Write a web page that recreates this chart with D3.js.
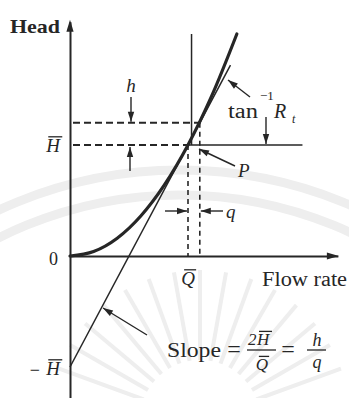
<!DOCTYPE html>
<html><head><meta charset="utf-8">
<script src="https://cdn.jsdelivr.net/npm/d3@7"></script>
<style>
body{margin:0;background:#fff}
svg{display:block}
text{font-family:"Liberation Serif","Times New Roman",serif;fill:#262626}
</style>
</head><body>
<svg id="c" width="349" height="398"></svg>
<script>
// Pump characteristic: head H against flow rate Q, in units of the operating point (Q̄, H̄)
const curveQ = [0, 0.2, 0.4, 0.6, 0.8, 1.0, 1.2, 1.414];
const curveH = [0, 0.04, 0.16, 0.36, 0.64, 1.0, 1.44, 2.0];
// tangent at P, crossing the head axis at −H̄
const tangentQ = [0, 1.36];
const tangentH = [-1, 1.72];
const opQ = 1, opH = 1;          // Q̄, H̄
const smallQ = 0.1, smallH = 0.2; // q, h
const axisQ = [0, 2.27];
const axisH = [-1.28, 2.11];
const refLineQ = 1.03, refLineTopH = 2.0;
const headLineEndQ = 1.97;

const ink = "#262626";
const svg = d3.select("#c");

const x = d3.scaleLinear().domain([0, 1]).range([70, 188]);
const y = d3.scaleLinear().domain([0, 1]).range([256, 145]);

// faint background emblem
const bg = svg.append("g").attr("fill", "none").attr("stroke", "#eeeeee");
[430, 405].forEach(r => {
  bg.append("path").attr("stroke-width", 9)
    .attr("d", d3.arc()({innerRadius: r, outerRadius: r, startAngle: -0.75, endAngle: 0.75}))
    .attr("transform", "translate(180,600)");
});
d3.range(-70, 71, 10).forEach(a => {
  const t = (a - 90) * Math.PI / 180;
  bg.append("line").attr("stroke-width", 4)
    .attr("x1", 200 + 60 * Math.cos(t)).attr("y1", 420 + 60 * Math.sin(t))
    .attr("x2", 200 + 150 * Math.cos(t)).attr("y2", 420 + 150 * Math.sin(t));
});

// axes without ticks
const xAxisScale = x.copy().domain(axisQ).range([x(axisQ[0]), x(axisQ[1])]);
const yAxisScale = y.copy().domain(axisH).range([y(axisH[0]), y(axisH[1])]);
svg.append("g").attr("transform", `translate(0,${y(0)})`)
  .call(d3.axisBottom(xAxisScale).tickValues([]).tickSizeOuter(0))
  .select(".domain").attr("stroke", ink).attr("stroke-width", 2);
svg.append("g").attr("transform", `translate(${x(0)},0)`)
  .call(d3.axisLeft(yAxisScale).tickValues([]).tickSizeOuter(0))
  .select(".domain").attr("stroke", ink).attr("stroke-width", 2);

function head(px, py, ang, len = 10, w = 3.2) {
  const c = Math.cos(ang), s = Math.sin(ang);
  const bx = px - len * c, by = py - len * s;
  svg.append("path").attr("fill", ink)
    .attr("d", `M${px},${py}L${bx - w * s},${by + w * c}L${bx + w * s},${by - w * c}Z`);
}
function arrow(x1, y1, x2, y2, sw = 1.4) {
  svg.append("line").attr("x1", x1).attr("y1", y1).attr("x2", x2).attr("y2", y2)
    .attr("stroke", ink).attr("stroke-width", sw);
  head(x2, y2, Math.atan2(y2 - y1, x2 - x1));
}
head(xAxisScale.range()[1] + 1, y(0), 0, 12, 3.6);
head(x(0), yAxisScale.range()[1] - 2, -Math.PI / 2, 12, 3.6);

// dashed guides
const dash = (x1, y1, x2, y2, d, w) => svg.append("line")
  .attr("x1", x1).attr("y1", y1).attr("x2", x2).attr("y2", y2)
  .attr("stroke", ink).attr("stroke-width", w).attr("stroke-dasharray", d);
dash(x(0) + 3, y(opH), x(opQ), y(opH), "7,4", 2);
dash(x(0) + 3, y(opH + smallH), x(opQ + smallQ), y(opH + smallH), "7,4", 2);
dash(x(opQ), y(opH), x(opQ), y(0), "5,4", 1.6);
dash(x(opQ + smallQ), y(opH + smallH), x(opQ + smallQ), y(0), "5,4", 1.6);

// solid references through P
svg.append("line").attr("x1", x(opQ)).attr("x2", x(headLineEndQ))
  .attr("y1", y(opH)).attr("y2", y(opH)).attr("stroke", ink).attr("stroke-width", 1.5);
svg.append("line").attr("x1", x(refLineQ)).attr("x2", x(refLineQ))
  .attr("y1", y(refLineTopH)).attr("y2", y(opH)).attr("stroke", ink).attr("stroke-width", 1.5);

// tangent line and characteristic curve
svg.append("path").datum(d3.zip(tangentQ, tangentH))
  .attr("fill", "none").attr("stroke", ink).attr("stroke-width", 1.5)
  .attr("d", d3.line().x(d => x(d[0])).y(d => y(d[1])));
svg.append("path").datum(d3.zip(curveQ, curveH))
  .attr("fill", "none").attr("stroke", ink).attr("stroke-width", 3.2)
  .attr("stroke-linecap", "round")
  .attr("d", d3.line().x(d => x(d[0])).y(d => y(d[1])).curve(d3.curveMonotoneX));

// text helpers
function txt(px, py, s, size, opt = {}) {
  const t = svg.append("text").attr("x", px).attr("y", py).attr("font-size", size)
    .attr("text-anchor", opt.anchor || "start")
    .attr("font-style", opt.italic ? "italic" : null)
    .attr("font-weight", opt.bold ? "bold" : null).text(s);
  if (opt.len) t.attr("textLength", opt.len).attr("lengthAdjust", "spacingAndGlyphs");
  return t;
}
function barred(px, py, s, size, opt = {}) {
  const t = txt(px, py, s, size, Object.assign({italic: true}, opt));
  const b = t.node().getBBox();
  svg.append("line").attr("x1", b.x + 3).attr("x2", b.x + b.width + 1)
    .attr("y1", py - size * 0.8).attr("y2", py - size * 0.8)
    .attr("stroke", ink).attr("stroke-width", 1.3);
  return t;
}

// axis titles and reference labels
txt(10, 33, "Head", 19, {bold: true, len: 50});
txt(262, 286, "Flow rate", 20, {len: 85});
txt(x(0) - 12, y(0) + 9, "0", 18, {anchor: "end"});
barred(x(0) - 10, y(opH) + 7, "H", 19, {anchor: "end"});
txt(x(0) - 30, y(-opH) + 9, "−", 18, {anchor: "end"});
barred(x(0) - 10, y(-opH) + 8, "H", 19, {anchor: "end"});
barred(x(opQ), y(0) + 29, "Q", 19, {anchor: "middle"});

// h markers
txt(131, 92, "h", 19, {italic: true, anchor: "middle"});
arrow(131, 97, 131, y(opH + smallH) - 1);
arrow(130, 171, 130, y(opH) + 2);

// q markers
arrow(165, 211, x(opQ) - 1, 211);
arrow(223, 211, x(opQ + smallQ) + 1, 211);
txt(226, 218, "q", 19, {italic: true});

// P
arrow(235, 166, 199, 149);
txt(238, 177, "P", 19, {italic: true});

// tan⁻¹ Rt
arrow(250, 97, 228, 80);
txt(228, 118, "tan", 20, {len: 30});
txt(260, 100, "−1", 13);
txt(274, 118, "R", 20, {italic: true});
txt(292, 123, "t", 12, {italic: true});
arrow(266, 117, 266, y(opH) - 1);

// slope annotation
arrow(147, 335, 103, 308);
txt(167, 357, "Slope", 20, {len: 54});
txt(234, 357, "=", 24, {anchor: "middle"});
txt(248, 345, "2", 17, {italic: true});
barred(257, 345, "H", 17);
svg.append("line").attr("x1", 247).attr("x2", 276).attr("y1", 350).attr("y2", 350)
  .attr("stroke", ink).attr("stroke-width", 1.3);
barred(262, 370, "Q", 17, {anchor: "middle"});
txt(288, 357, "=", 24, {anchor: "middle"});
txt(317, 346, "h", 18, {italic: true, anchor: "middle"});
svg.append("line").attr("x1", 307).attr("x2", 326).attr("y1", 350).attr("y2", 350)
  .attr("stroke", ink).attr("stroke-width", 1.3);
txt(317, 368, "q", 18, {italic: true, anchor: "middle"});
</script>
</body></html>
